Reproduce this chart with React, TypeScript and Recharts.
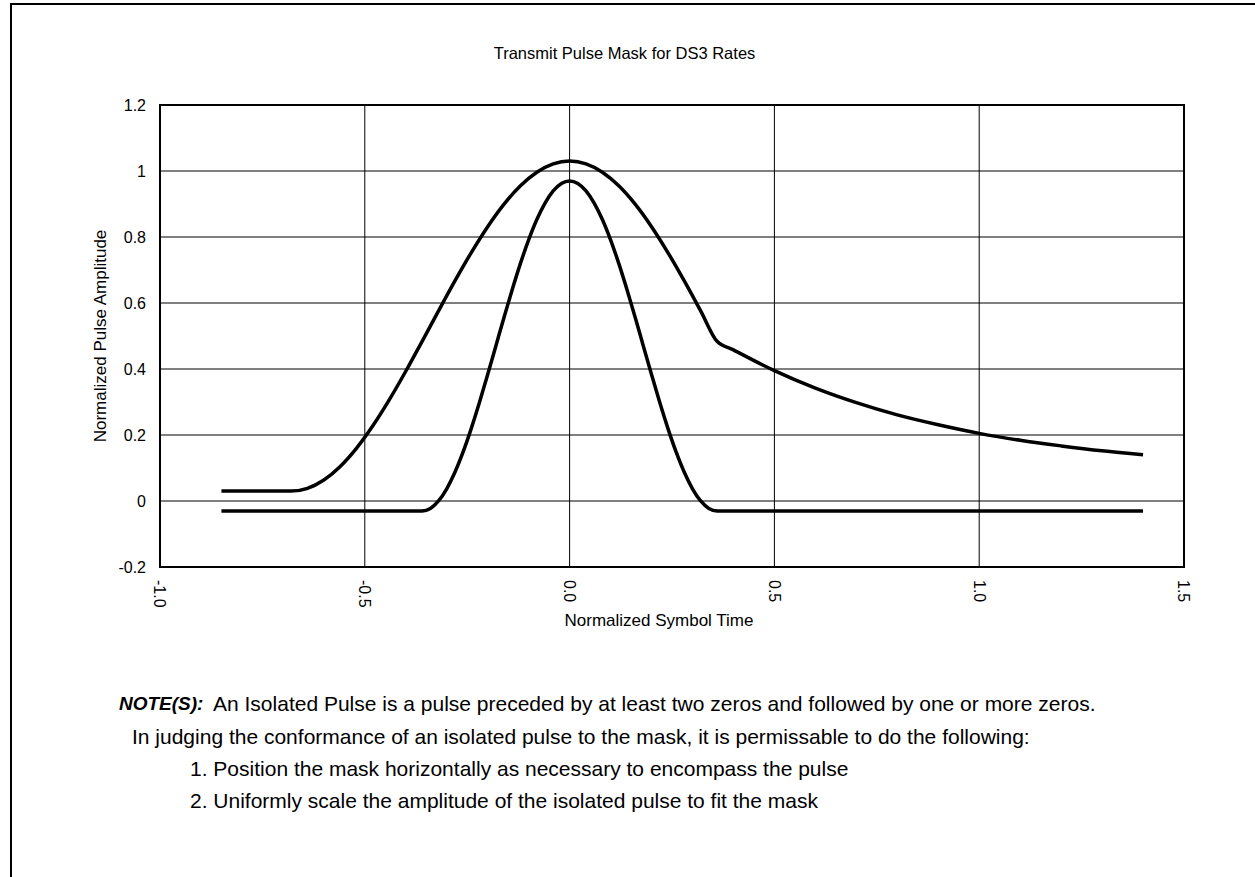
import React from 'react';
import { LineChart, Line, XAxis, YAxis, CartesianGrid, ReferenceArea } from 'recharts';

// DS3 transmit pulse mask: upper and lower limit curves
const upperTime = [
  -0.85, -0.68, -0.64, -0.6, -0.56, -0.52, -0.48, -0.44, -0.4, -0.36, -0.32, -0.28, -0.24, -0.2,
  -0.16, -0.12, -0.08, -0.04, 0, 0.04, 0.08, 0.12, 0.16, 0.2, 0.24, 0.28, 0.32, 0.36, 0.4, 0.5,
  0.6, 0.7, 0.8, 0.9, 1.0, 1.1, 1.2, 1.3, 1.4,
];
const upperAmp = [
  0.03, 0.03, 0.0385, 0.0638, 0.1049, 0.1605, 0.2287, 0.3072, 0.3932, 0.4839, 0.5762, 0.6669,
  0.7529, 0.8313, 0.8995, 0.9551, 0.9962, 1.0215, 1.03, 1.0215, 0.9962, 0.9551, 0.8995, 0.8313,
  0.7529, 0.6669, 0.5762, 0.4839, 0.458, 0.395, 0.342, 0.298, 0.261, 0.231, 0.205, 0.184, 0.167,
  0.152, 0.14,
];

const lowerTime = [
  -0.85, -0.36, -0.34, -0.32, -0.3, -0.28, -0.26, -0.24, -0.22, -0.2, -0.18, -0.16, -0.14, -0.12,
  -0.1, -0.08, -0.06, -0.04, -0.02, 0, 0.02, 0.04, 0.06, 0.08, 0.1, 0.12, 0.14, 0.16, 0.18, 0.2,
  0.22, 0.24, 0.26, 0.28, 0.3, 0.32, 0.34, 0.36, 1.4,
];
const lowerAmp = [
  -0.03, -0.03, -0.0224, 0.0002, 0.037, 0.087, 0.1486, 0.22, 0.299, 0.3832, 0.47, 0.5568, 0.641,
  0.72, 0.7914, 0.853, 0.903, 0.9398, 0.9624, 0.97, 0.9624, 0.9398, 0.903, 0.853, 0.7914, 0.72,
  0.641, 0.5568, 0.47, 0.3832, 0.299, 0.22, 0.1486, 0.087, 0.037, 0.0002, -0.0224, -0.03, -0.03,
];

const xTicks = [-1.0, -0.5, 0, 0.5, 1.0, 1.5];
const yTicks = [-0.2, 0, 0.2, 0.4, 0.6, 0.8, 1, 1.2];

const upperData = upperTime.map((t, i) => ({ t, amp: upperAmp[i] }));
const lowerData = lowerTime.map((t, i) => ({ t, amp: lowerAmp[i] }));

const FONT = '"Liberation Sans", Arial, Helvetica, sans-serif';

const XTick = (props: any) => {
  const { x, y, payload } = props;
  return (
    <text
      x={x}
      y={y}
      dy="0.35em"
      transform={`rotate(90 ${x} ${y})`}
      textAnchor="start"
      fontSize={16}
      fontFamily={FONT}
      fill="#000"
    >
      {Number(payload.value).toFixed(1)}
    </text>
  );
};

const XTitle = (props: any) => {
  const vb = props.viewBox || {};
  return (
    <text
      x={vb.x + vb.width / 2 - 13}
      y={vb.y + 53}
      dy="0.35em"
      textAnchor="middle"
      fontSize={17}
      fontFamily={FONT}
      fill="#000"
    >
      Normalized Symbol Time
    </text>
  );
};

const YTitle = (props: any) => {
  const vb = props.viewBox || {};
  const cx = vb.x;
  const cy = vb.y + vb.height / 2;
  return (
    <text
      x={cx}
      y={cy}
      dy="0.35em"
      transform={`rotate(-90 ${cx} ${cy})`}
      textAnchor="middle"
      fontSize={17}
      fontFamily={FONT}
      fill="#000"
    >
      Normalized Pulse Amplitude
    </text>
  );
};

const noteStyle: React.CSSProperties = {
  position: 'absolute',
  fontSize: 21,
  lineHeight: '24px',
  whiteSpace: 'nowrap',
};

export default function App() {
  return (
    <div
      style={{
        position: 'absolute',
        left: 0,
        top: 0,
        width: 1255,
        height: 877,
        overflow: 'hidden',
        background: '#fff',
        fontFamily: FONT,
        color: '#000',
      }}
    >
      <div
        style={{
          position: 'absolute',
          left: 10,
          top: 3,
          width: 1400,
          height: 1000,
          borderLeft: '2px solid #000',
          borderTop: '2px solid #000',
        }}
      />
      <div
        style={{
          position: 'absolute',
          left: 0,
          top: 43,
          width: 1249,
          textAlign: 'center',
          fontSize: 16.5,
          lineHeight: '20px',
        }}
      >
        Transmit Pulse Mask for DS3 Rates
      </div>

      <div style={{ position: 'absolute', left: 0, top: 0 }}>
        <LineChart
          width={1255}
          height={877}
          margin={{ top: 105, right: 71, left: 100, bottom: 260 }}
        >
          <CartesianGrid stroke="#000" strokeWidth={1} />
          <XAxis
            dataKey="t"
            type="number"
            domain={[-1, 1.5]}
            ticks={xTicks}
            allowDataOverflow
            height={50}
            tickSize={0}
            tickMargin={13}
            axisLine={{ stroke: '#000', strokeWidth: 2 }}
            tick={<XTick />}
            label={XTitle}
          />
          <YAxis
            type="number"
            domain={[-0.2, 1.2]}
            ticks={yTicks}
            allowDataOverflow
            width={60}
            tickSize={0}
            tickMargin={14}
            axisLine={{ stroke: '#000', strokeWidth: 2 }}
            tick={{ fill: '#000', fontSize: 16, fontFamily: FONT }}
            label={YTitle}
          />
          <ReferenceArea
            x1={-1}
            x2={1.5}
            y1={-0.2}
            y2={1.2}
            fill="none"
            stroke="#000"
            strokeWidth={2}
          />
          <Line
            data={upperData}
            dataKey="amp"
            type="monotone"
            stroke="#000"
            strokeWidth={3.5}
            dot={false}
            activeDot={false}
            isAnimationActive={false}
          />
          <Line
            data={lowerData}
            dataKey="amp"
            type="monotone"
            stroke="#000"
            strokeWidth={3.5}
            dot={false}
            activeDot={false}
            isAnimationActive={false}
          />
        </LineChart>
      </div>

      <div style={{ ...noteStyle, left: 119, top: 692, fontSize: 19 }}>
        <b><i>NOTE(S):</i></b>
      </div>
      <div style={{ ...noteStyle, left: 213, top: 692 }}>
        An Isolated Pulse is a pulse preceded by at least two zeros and followed by one or more zeros.
      </div>
      <div style={{ ...noteStyle, left: 132, top: 725 }}>
        In judging the conformance of an isolated pulse to the mask, it is permissable to do the following:
      </div>
      <div style={{ ...noteStyle, left: 190, top: 757 }}>
        1. Position the mask horizontally as necessary to encompass the pulse
      </div>
      <div style={{ ...noteStyle, left: 190, top: 789 }}>
        2. Uniformly scale the amplitude of the isolated pulse to fit the mask
      </div>
    </div>
  );
}
